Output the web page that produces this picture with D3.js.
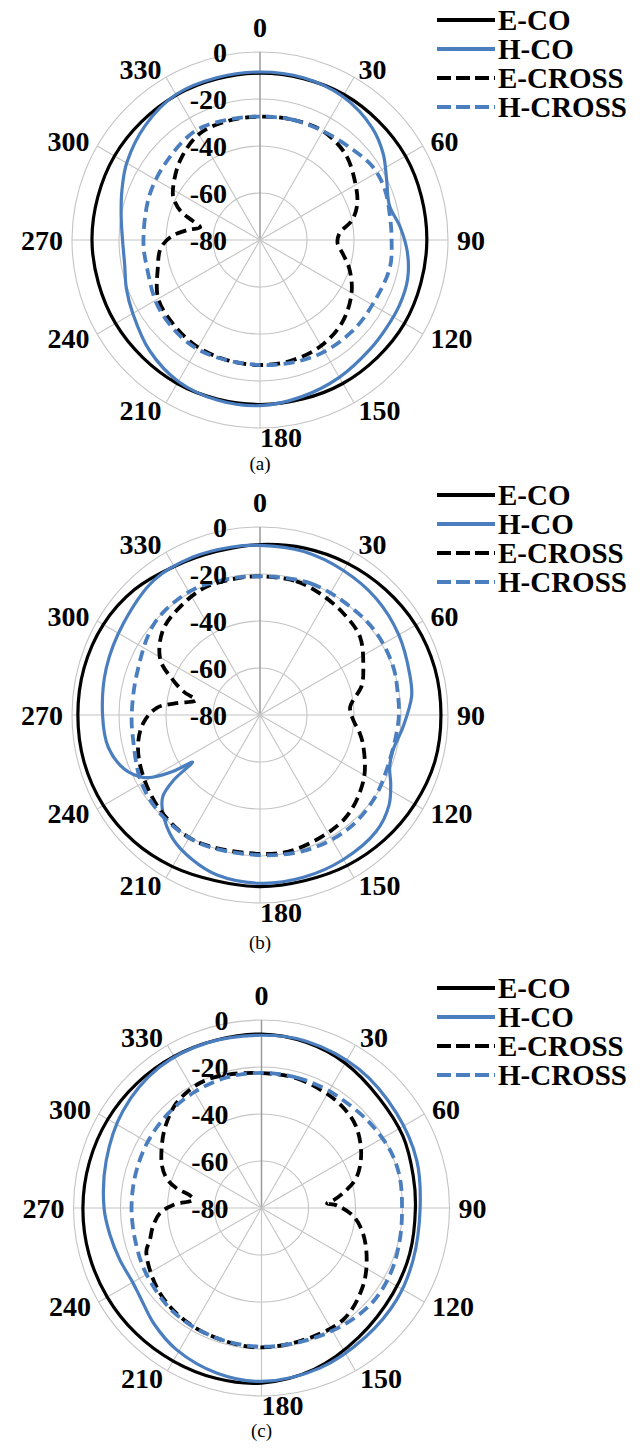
<!DOCTYPE html>
<html>
<head>
<meta charset="utf-8">
<script src="https://cdn.jsdelivr.net/npm/d3@7"></script>
<style>
  body { margin: 0; background: #fff; }
  svg { display: block; }
  text { font-family: "Liberation Serif", "Times New Roman", serif; }
</style>
</head>
<body>
<svg id="chart" width="643" height="1455"></svg>
<script>
// series names, axis ticks, panel captions
const SERIES = ["E-CO", "H-CO", "E-CROSS", "H-CROSS"];
const ANGLE_TICKS = [0, 30, 60, 90, 120, 150, 180, 210, 240, 270, 300, 330];
const DB_TICKS = [0, -20, -40, -60, -80];
const PANEL_LABELS = ["(a)", "(b)", "(c)"];

// [angle in degrees, level in dB]
// panel (a)
const A_ECO = [[0,-9],[30,-8.5],[60,-8.5],[90,-9],[120,-9],[150,-9.5],[180,-10],[210,-9.5],[240,-9],[270,-8.5],[300,-8.5],[330,-8.8]];
const A_HCO = [[0,-8.5],[15,-8.5],[30,-9.5],[45,-12.5],[55,-16],[65,-20.5],[75,-23],[85,-20],[95,-17],[105,-15],[115,-14.5],[125,-14.5],[135,-14],[150,-12.5],[165,-11],[180,-9.5],[195,-9.5],[210,-10.5],[225,-13.5],[240,-17.5],[250,-19.5],[260,-21.5],[270,-21.5],[280,-20],[290,-17.5],[300,-14.5],[315,-11],[330,-8.5],[345,-8.5]];
const A_ECROSS = [[0,-27.5],[15,-27],[30,-26.5],[45,-28.5],[60,-33],[70,-36],[78,-40],[85,-46],[92,-47],[100,-44],[108,-40],[120,-35],[135,-30.5],[150,-28],[165,-27],[180,-26.8],[195,-27],[210,-27.3],[225,-28.5],[240,-30],[255,-35],[265,-37.5],[272,-42],[278,-49],[282,-54],[286,-50],[290,-44],[296,-39],[302,-36.5],[315,-32],[330,-28],[345,-27.5]];
const A_HCROSS = [[0,-27.5],[15,-27],[30,-26.5],[45,-25],[57,-22.8],[68,-22.7],[80,-23.8],[90,-24],[102,-23.5],[120,-24.8],[135,-24.8],[155,-25.4],[180,-26.8],[210,-26.5],[235,-28],[257,-30.5],[270,-30.4],[293,-29.2],[313,-27.8],[330,-26],[345,-27]];

// panel (b)
const B_ECO = [[0,-7.5],[15,-6.5],[30,-5.5],[45,-4.5],[60,-3.5],[75,-3],[90,-3],[105,-3],[120,-4],[135,-5],[150,-6],[165,-7],[180,-7],[195,-7],[210,-5.5],[225,-4],[240,-3],[255,-2.5],[270,-2.5],[285,-2.5],[300,-3],[315,-4.5],[330,-7],[345,-8]];
const B_HCO = [[0,-7.8],[15,-8],[30,-9],[45,-10],[60,-11.8],[75,-14],[83,-15],[95,-19],[105,-21.5],[112,-20.5],[118,-17],[125,-13],[135,-10],[150,-9],[165,-8.5],[180,-8.4],[195,-9.5],[205,-12],[215,-15.5],[225,-21.5],[230,-26],[233,-34],[235,-45],[237,-36],[240,-27],[242,-23.5],[248,-18],[258,-14],[270,-13],[287,-11.6],[304,-10],[322,-7],[337,-7],[350,-7.5]];
const B_ECROSS = [[0,-21],[15,-21],[26,-22.3],[39,-24],[52,-26],[65,-31.5],[74,-35],[85,-41.5],[93,-40.3],[100,-37],[107,-34],[122,-28],[141,-23],[166,-20.8],[183,-21],[208,-19.7],[226,-21.3],[243,-24],[256,-26.5],[266,-30.2],[274,-36],[278,-44],[283,-52],[287,-46],[292,-40],[299,-31.5],[311,-25.2],[324,-22.7],[337,-20.9],[352,-21]];
const B_HCROSS = [[0,-21],[21,-20],[40,-20],[55,-19.4],[70,-19.7],[80,-20.6],[92,-21],[113,-21.3],[127,-19.7],[143,-18.7],[161,-19.2],[180,-20.4],[205,-19.7],[225,-20.3],[241,-22],[259,-25],[270,-25.4],[289,-24.7],[311,-20.5],[330,-19.5],[345,-20.5]];

// panel (c)
const C_ECO = [[0,-6],[15,-7],[30,-8.8],[47,-11.5],[63,-12.5],[78,-14],[90,-14.5],[107,-14],[123,-13.3],[143,-11.2],[162,-7.8],[180,-5.5],[195,-5],[210,-4.8],[225,-4.5],[240,-4.2],[255,-4],[270,-4],[285,-4.2],[300,-4.5],[315,-5],[330,-5.5],[345,-6]];
const C_HCO = [[0,-6.5],[15,-6.5],[35,-7.8],[55,-9.8],[73,-10.9],[90,-12.5],[109,-11.8],[124,-10.5],[141,-9.5],[160,-7.5],[180,-6.2],[195,-7.2],[211,-9.7],[223,-12.8],[234,-16],[240,-16.7],[250,-15.8],[260,-14.5],[270,-13],[287,-10.9],[305,-8],[324,-6],[342,-6]];
const C_ECROSS = [[0,-22.6],[15,-22.8],[30,-24],[40,-25],[49,-26.8],[61,-31.5],[72,-37.4],[78,-43],[84,-49.3],[86,-52],[88,-48],[95,-40.8],[104,-35.5],[116,-30.2],[128,-25.4],[144,-21.1],[167,-21],[186,-20.8],[210,-21.8],[230,-23.6],[249,-27.5],[254,-30.6],[260,-33],[267,-36.7],[272,-42.4],[277,-50.8],[280,-49],[283,-43],[287,-38],[293,-34],[302,-30],[310,-26.5],[321,-22.5],[334,-20.7],[345,-21.4]];
const C_HCROSS = [[0,-22.5],[15,-22.5],[29,-22.5],[45,-22],[54,-21.2],[66,-20],[77,-19.7],[90,-20.2],[103,-19.6],[116,-18.5],[129,-18],[143,-19],[160,-20.5],[180,-21],[200,-21.5],[220,-22],[240,-23.5],[255,-24.5],[270,-24.7],[285,-24.5],[300,-24],[315,-23.5],[330,-23],[345,-22.5]];

const PANEL_DATA = [
  [A_ECO, A_HCO, A_ECROSS, A_HCROSS],
  [B_ECO, B_HCO, B_ECROSS, B_HCROSS],
  [C_ECO, C_HCO, C_ECROSS, C_HCROSS],
];

/* ---------- layout ---------- */
const BLUE = "#4a7ebf";
const STYLE = [
  { color: "#000", dash: null, width: 3.2 },
  { color: BLUE, dash: null, width: 3.2 },
  { color: "#000", dash: "11,6", width: 3.8 },
  { color: BLUE, dash: "11,6", width: 3.8 },
];
const CENTERS = [[260, 240], [260, 715], [261.5, 1208]];
const CAPTION_DY = [223, 227, 222];
const R = 188;

const svg = d3.select("#chart");
const r = d3.scaleLinear().domain([-80, 0]).range([0, R]);
const rad = (a) => (a * Math.PI) / 180;

const line = d3.lineRadial()
  .angle((d) => rad(d[0]))
  .radius((d) => r(d[1]))
  .curve(d3.curveCatmullRomClosed.alpha(0.5));

function drawPanel(i) {
  const [cx, cy] = CENTERS[i];
  const g = svg.append("g").attr("transform", `translate(${cx},${cy})`);

  // rings
  g.selectAll("circle.ring")
    .data(DB_TICKS.filter((v) => v > -80))
    .enter()
    .append("circle")
    .attr("class", "ring")
    .attr("r", (d) => r(d))
    .attr("fill", "none")
    .attr("stroke", "#c4c4c4")
    .attr("stroke-width", 1.1);

  // spokes
  g.selectAll("line.spoke")
    .data(ANGLE_TICKS)
    .enter()
    .append("line")
    .attr("x1", 0).attr("y1", 0)
    .attr("x2", (d) => R * Math.sin(rad(d)))
    .attr("y2", (d) => -R * Math.cos(rad(d)))
    .attr("stroke", (d) => (d === 0 ? "#9a9a9a" : "#c4c4c4"))
    .attr("stroke-width", (d) => (d === 0 ? 1.5 : 1.1));

  // curves
  PANEL_DATA[i].forEach((pts, k) => {
    g.append("path")
      .attr("d", line(pts))
      .attr("fill", "none")
      .attr("stroke", STYLE[k].color)
      .attr("stroke-width", STYLE[k].width)
      .attr("stroke-dasharray", STYLE[k].dash)
      .attr("stroke-linejoin", "round");
  });

  // dB labels along the 0 spoke
  g.selectAll("text.db")
    .data(DB_TICKS)
    .enter()
    .append("text")
    .attr("x", -33)
    .attr("y", (d) => -r(d))
    .attr("dy", "0.35em")
    .attr("text-anchor", "end")
    .attr("font-size", 28)
    .attr("font-weight", "bold")
    .text((d) => d);

  // angle labels
  g.selectAll("text.ang")
    .data(ANGLE_TICKS)
    .enter()
    .append("text")
    .attr("x", (d) => (d === 0 ? 0 : 197 * Math.sin(rad(d))))
    .attr("y", (d) => (d === 0 ? -213 : -197 * Math.cos(rad(d))))
    .attr("dy", "0.35em")
    .attr("text-anchor", (d) => (d === 0 ? "middle" : d <= 180 ? "start" : "end"))
    .attr("font-size", 28)
    .attr("font-weight", "bold")
    .text((d) => d);

  // legend
  const lg = svg.append("g").attr("transform", `translate(437,${cy - 220})`);
  SERIES.forEach((name, k) => {
    const y = k * 29;
    lg.append("line")
      .attr("x1", 0).attr("x2", 58)
      .attr("y1", y).attr("y2", y)
      .attr("stroke", STYLE[k].color)
      .attr("stroke-width", 4)
      .attr("stroke-dasharray", STYLE[k].dash ? "14,5" : null);
    lg.append("text")
      .attr("x", 61).attr("y", y)
      .attr("dy", "0.35em")
      .attr("font-size", 29)
      .attr("font-weight", "bold")
      .text(name);
  });

  // caption
  svg.append("text")
    .attr("x", cx).attr("y", cy + CAPTION_DY[i])
    .attr("dy", "0.35em")
    .attr("text-anchor", "middle")
    .attr("font-size", 19)
    .text(PANEL_LABELS[i]);
}

[0, 1, 2].forEach(drawPanel);
</script>
</body>
</html>
